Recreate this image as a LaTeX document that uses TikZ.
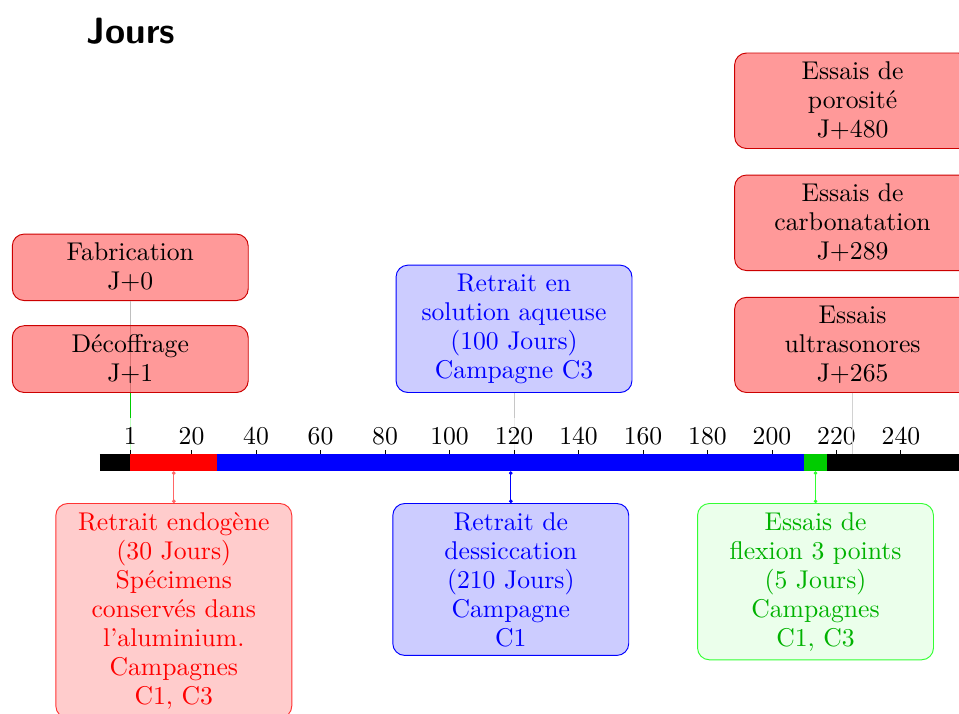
\documentclass[tikz,border=0pt]{standalone}
\usepackage{tikz}
\usetikzlibrary{arrows.meta}

\begin{document}
\fontsize{10.8}{12.2}\selectfont
\begin{tikzpicture}[x=0.0477cm,y=1cm,
  jalon/.style={draw=red!80!black,fill=red,fill opacity=0.4,text opacity=1,
    rounded corners=5pt,inner sep=3.7pt,minimum width=3.49cm,align=center},
  jalonbleu/.style={jalon,draw=blue,fill=blue!20,fill opacity=1,text=blue},
  periode/.style={rounded corners=5pt,inner sep=3.7pt,minimum width=3.49cm,align=center},
  barre/.style={line width=0.25cm}]
  \useasboundingbox (-39.4,-3.701) rectangle (258,6.846);

  \node[font=\fontsize{15.4}{18}\selectfont\bfseries\sffamily] (titre) at (1.2,6.39) {Jours};

  \coordinate (f1) at (1,0.66);     \coordinate (x1) at (1,0.126);
  \coordinate (f120) at (120,0.66); \coordinate (x120) at (120,0.126);
  \coordinate (x225) at (225,0.126);

  % evenements au-dessus de l'axe
  \node[jalon,anchor=south] (fab) at (1,2.393) {Fabrication\\J+0};
  \draw[gray!50] (fab) -- (f1);
  \node[jalon,anchor=south] (dec) at (1,1.033) {Décoffrage\\J+1};
  \draw[green!80!black] (dec) -- (f1);
  \draw[green!25] (f1) -- (x1);
  \node[jalonbleu,anchor=south] (aqu) at (120,1.033) {Retrait en\\solution aqueuse\\(100 Jours)\\Campagne C3};
  \draw[gray!45] (aqu) -- (f120);
  \draw[gray!15] (f120) -- (x120);
  \node[jalon,anchor=south] (ultra) at (225,1.033) {Essais\\ultrasonores\\J+265};
  \node[jalon,anchor=south] (carbo) at (225,2.837) {Essais de\\carbonatation\\J+289};
  \node[jalon,anchor=south] (poro) at (225,4.642) {Essais de\\porosité\\J+480};

  % axe des jours
  \draw[barre] (-8.4,0) -- (265,0);
  \draw[barre,red] (1,0) -- (28,0);
  \draw[barre,blue] (28,0) -- (210,0);
  \draw[barre,green!80!black] (210,0) -- (217,0);
  \foreach \j in {1,20,40,60,...,240} {
    \draw (\j,0.125) -- (\j,0.19);
    \node[anchor=base] (lab\j) at (\j,0.278) {\j};
  }
  \draw[gray!35] (ultra) -- (x225);

  % periodes sous l'axe
  \node[periode,draw=red!80,fill=red!20,text=red,anchor=north] (endo) at (14.5,-0.595)
       {Retrait endogène\\(30 Jours)\\Spécimens\\conservés dans\\l'aluminium.\\Campagnes\\C1, C3};
  \node[periode,draw=blue,fill=blue!20,text=blue,anchor=north] (dess) at (119,-0.595)
       {Retrait de\\dessiccation\\(210 Jours)\\Campagne\\C1};
  \node[periode,draw=green!80,fill=green!8,text=green!70!black,anchor=north] (flex) at (213.5,-0.595)
       {Essais de\\flexion 3 points\\(5 Jours)\\Campagnes\\C1, C3};

  \coordinate (y14) at (14.5,-0.126);
  \coordinate (y119) at (119,-0.126);
  \coordinate (y213) at (213.5,-0.126);
  \draw[red!60,{Circle[length=1.5pt]}-{Circle[length=1.5pt]}] (y14) -- (endo);
  \draw[blue,{Circle[length=1.5pt]}-{Circle[length=1.5pt]}] (y119) -- (dess);
  \draw[green!80,{Circle[length=1.5pt]}-{Circle[length=1.5pt]}] (y213) -- (flex);
\end{tikzpicture}
\end{document}
